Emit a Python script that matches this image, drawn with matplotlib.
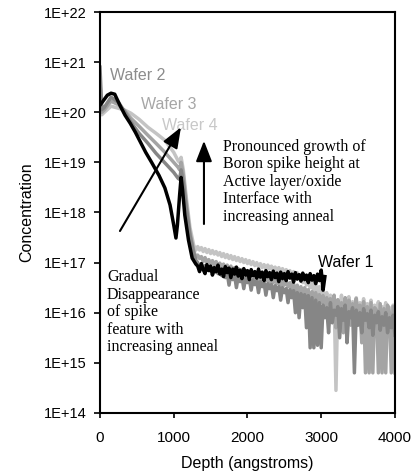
import numpy as np
import matplotlib
matplotlib.use("Agg")
import matplotlib.pyplot as plt
from matplotlib.ticker import FixedLocator, NullLocator

# near-surface / interface part of each profile: depth (angstroms), log10(concentration)
w1_depth = [0, 50, 100, 150, 200, 270, 340, 410, 480, 550, 620, 700, 800, 880,
            950, 1000, 1030, 1050, 1080, 1100, 1120, 1150, 1200, 1250, 1300]
w1_log = [20.14, 20.24, 20.34, 20.38, 20.36, 20.14, 19.94, 19.78, 19.60, 19.40,
          19.20, 19.00, 18.74, 18.49, 18.15, 17.75, 17.49, 17.75, 18.35, 18.70,
          18.45, 17.95, 17.45, 17.09, 16.97]

gray_depth = [0, 25, 60, 150, 250, 340, 420, 530, 650, 760, 880, 1000, 1060, 1080,
              1100, 1130, 1170, 1220, 1270, 1300]
w2_log = [20.90, 20.05, 20.10, 20.30, 20.20, 20.00, 19.80, 19.58, 19.38, 19.18,
          18.99, 18.80, 18.68, 18.66, 18.85, 18.60, 18.10, 17.55, 17.20, 17.05]
w3_log = [20.60, 20.00, 20.05, 20.22, 20.15, 20.02, 19.88, 19.72, 19.54, 19.38,
          19.20, 19.00, 18.90, 18.85, 19.00, 18.75, 18.20, 17.60, 17.25, 17.10]
w4_log = [20.40, 19.95, 20.00, 20.12, 20.08, 20.04, 19.98, 19.86, 19.70, 19.58,
          19.44, 19.20, 19.03, 19.00, 19.10, 18.85, 18.30, 17.70, 17.35, 17.25]

# noisy tails, sampled every 25 angstroms
w1_tail_depth = np.arange(1325, 3051, 25)
w1_tail = [16.93, 16.82, 16.98, 16.86, 16.78, 16.96, 16.84, 16.93, 16.75, 16.90,
           16.82, 16.95, 16.77, 16.87, 16.72, 16.92, 16.80, 16.89, 16.70, 16.87,
           16.77, 16.91, 16.73, 16.85, 16.68, 16.88, 16.75, 16.84, 16.66, 16.86,
           16.74, 16.82, 16.69, 16.87, 16.71, 16.81, 16.64, 16.84, 16.72, 16.80,
           16.66, 16.83, 16.70, 16.79, 16.62, 16.81, 16.68, 16.78, 16.64, 16.82,
           16.69, 16.77, 16.61, 16.80, 16.67, 16.76, 16.63, 16.79, 16.66, 16.75,
           16.60, 16.78, 16.65, 16.74, 16.58, 16.77, 16.64, 16.85, 16.45, 16.72]

gray_tail_depth = np.arange(1325, 4001, 25)
w2_tail = [17.00, 16.92, 16.96, 16.88, 16.94, 16.85, 16.91, 16.83, 16.89, 16.80, 16.87, 16.78,
           16.84, 16.74, 16.82, 16.70, 16.80, 16.55, 16.78, 16.66, 16.75, 16.50, 16.73, 16.62,
           16.71, 16.48, 16.70, 16.60,
           16.68, 16.45, 16.66, 16.56, 16.64, 16.40, 16.62, 16.52, 16.60, 16.35, 16.58, 16.48,
           16.56, 16.30, 16.54, 16.44, 16.52, 16.25, 16.50, 16.40,
           16.48, 16.20, 16.46, 16.30, 16.44, 16.00, 16.40, 15.90, 16.38, 16.10, 16.36, 15.70,
           16.34, 15.30, 16.30, 15.30, 16.25, 15.35, 16.20, 15.30,
           16.15, 15.90, 16.10, 15.60, 16.20, 15.80, 16.05, 15.95, 16.12, 15.50, 16.08, 15.85,
           16.15, 15.40, 16.02, 15.90, 16.10, 14.80, 16.05, 15.75, 16.00, 15.60, 16.08, 15.85,
           15.98, 15.70, 16.05, 15.55, 15.95, 15.80, 16.02, 15.65, 15.92, 15.75, 16.00, 15.60,
           15.90, 15.70, 15.95, 15.55]
w3_tail = [17.15, 17.08, 17.12, 17.02, 17.10, 17.00, 17.06, 16.98, 17.04, 16.95, 17.02, 16.93,
           16.99, 16.90, 16.97, 16.88, 16.95, 16.85, 16.93, 16.83, 16.90, 16.80, 16.88, 16.78,
           16.86, 16.76, 16.84, 16.74,
           16.82, 16.72, 16.80, 16.70, 16.78, 16.55, 16.76, 16.66, 16.74, 16.64, 16.72, 16.50,
           16.70, 16.60, 16.68, 16.58, 16.66, 16.45, 16.64, 16.55,
           16.62, 16.52, 16.60, 16.48, 16.58, 16.30, 16.55, 16.40, 16.52, 16.20, 16.50, 16.35,
           16.46, 16.10, 16.42, 16.25, 16.40, 15.95, 16.36, 16.20,
           16.34, 16.05, 16.30, 15.80, 16.28, 16.10, 16.35, 15.70, 16.26, 16.00, 16.20, 15.60,
           16.30, 15.85, 16.25, 15.75, 16.18, 15.95, 16.28, 15.80, 16.15, 15.40,
           16.22, 14.80, 16.12, 14.80, 16.20, 14.80, 16.10, 16.05, 14.80, 16.18, 14.80, 16.08,
           14.80, 16.15, 16.00, 14.80, 16.12, 14.80]
w4_tail = [17.32, 17.25, 17.30, 17.22, 17.28, 17.20, 17.26, 17.18, 17.24, 17.17, 17.22, 17.15,
           17.20, 17.12, 17.18, 17.10, 17.16, 17.08, 17.14, 17.06, 17.12, 17.04, 17.10, 17.02,
           17.08, 17.00, 17.06, 16.98,
           17.04, 16.96, 17.02, 16.94, 17.00, 16.92, 16.98, 16.90, 16.96, 16.88, 16.95, 16.87,
           16.93, 16.85, 16.91, 16.83, 16.90, 16.82, 16.88, 16.80,
           16.86, 16.78, 16.84, 16.75, 16.82, 16.72, 16.80, 16.70, 16.76, 16.60, 16.72, 16.55,
           16.68, 16.50, 16.62, 16.40, 16.58, 16.35, 16.52, 16.30,
           16.45, 16.25, 16.40, 16.10, 16.35, 15.80, 16.30, 14.45, 16.25, 16.05, 16.35, 15.85,
           16.28, 16.10, 16.32, 15.90, 16.22, 16.05, 16.30, 15.95, 16.20, 16.00, 16.28, 15.92,
           16.18, 16.05, 16.25, 15.88, 16.15, 16.02, 16.22, 15.95, 16.12, 16.00, 16.20, 15.90,
           16.10, 16.02, 16.15, 15.95]

y_ticks = [1e14, 1e15, 1e16, 1e17, 1e18, 1e19, 1e20, 1e21, 1e22]
y_labels = ["1E+14", "1E+15", "1E+16", "1E+17", "1E+18", "1E+19", "1E+20", "1E+21", "1E+22"]
x_ticks = [0, 1000, 2000, 3000, 4000]

sans = ["Liberation Sans", "DejaVu Sans"]
serif = ["Liberation Serif", "DejaVu Serif"]

fig = plt.figure(figsize=(4.14, 4.73), dpi=100)
ax = fig.add_axes([0.2415, 0.127, 0.7125, 0.8476])

series = [
    (gray_depth, w4_log, gray_tail_depth, w4_tail, "#c4c4c4"),
    (gray_depth, w3_log, gray_tail_depth, w3_tail, "#a4a4a4"),
    (gray_depth, w2_log, gray_tail_depth, w2_tail, "#868686"),
    (w1_depth, w1_log, w1_tail_depth, w1_tail, "black"),
]
for d, lg, td, tl, col in series:
    depth = np.concatenate([d, td])
    conc = 10 ** np.concatenate([lg, tl])
    ax.plot(depth, conc, color=col, lw=2.5, solid_joinstyle="round")

ax.set_yscale("log")
ax.set_ylim(1e14, 1e22)
ax.set_xlim(0, 4000)
ax.yaxis.set_major_locator(FixedLocator(y_ticks))
ax.yaxis.set_minor_locator(NullLocator())
ax.set_yticklabels(y_labels)
ax.set_xticks(x_ticks)
ax.tick_params(axis="y", direction="out", length=4.3, width=1.2, pad=5.5)
ax.tick_params(axis="x", direction="out", length=3.6, width=1.2, pad=9.5)
for lab in ax.get_yticklabels():
    lab.set_fontfamily(sans)
    lab.set_fontsize(10.5)
for lab in ax.get_xticklabels():
    lab.set_fontfamily(sans)
    lab.set_fontsize(11)
for sp in ax.spines.values():
    sp.set_linewidth(1.5)

ax.set_xlabel("Depth (angstroms)", family=sans, fontsize=11.5, labelpad=8)
ax.set_ylabel("Concentration", family=sans, fontsize=11.5, labelpad=7)

# curve labels
ax.text(135, 10 ** 20.74, "Wafer 2", color="#8c8c8c", family=sans, fontsize=11.5, va="center")
ax.text(556, 10 ** 20.16, "Wafer 3", color="#a6a6a6", family=sans, fontsize=11.5, va="center")
ax.text(840, 10 ** 19.74, "Wafer 4", color="#c8c8c8", family=sans, fontsize=11.5, va="center")
ax.text(2956, 10 ** 17.0, "Wafer 1", color="black", family=sans, fontsize=11.5, va="center")

# annotations
ax.text(1668, 10 ** 19.47,
        "Pronounced growth of\nBoron spike height at\nActive layer/oxide\nInterface with\nincreasing anneal",
        family=serif, fontsize=11.5, va="top", ha="left", linespacing=1.13)
ax.text(95, 10 ** 16.87,
        "Gradual\nDisappearance\nof spike\nfeature with\nincreasing anneal",
        family=serif, fontsize=11.5, va="top", ha="left", linespacing=1.13)

arrow = dict(arrowstyle="-|>,head_length=0.9,head_width=0.35", lw=1.5,
             color="black", mutation_scale=14, shrinkA=0, shrinkB=0)
ax.annotate("", xy=(1098, 10 ** 19.70), xytext=(271, 10 ** 17.63), arrowprops=arrow)
ax.annotate("", xy=(1410, 10 ** 19.43), xytext=(1410, 10 ** 17.77), arrowprops=arrow)

fig.savefig("out.png", dpi=100)
